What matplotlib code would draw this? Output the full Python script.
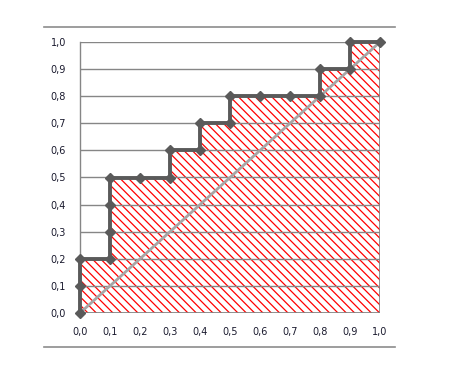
import matplotlib
matplotlib.use("Agg")
import matplotlib.pyplot as plt
from matplotlib.lines import Line2D
from matplotlib.ticker import FuncFormatter, MultipleLocator

# ROC-style step curve (false positive rate, true positive rate)
fpr = [0.0, 0.0, 0.0, 0.1, 0.1, 0.1, 0.1, 0.2, 0.3, 0.3, 0.4, 0.4, 0.5, 0.5,
       0.6, 0.7, 0.8, 0.8, 0.9, 0.9, 1.0]
tpr = [0.0, 0.1, 0.2, 0.2, 0.3, 0.4, 0.5, 0.5, 0.5, 0.6, 0.6, 0.7, 0.7, 0.8,
       0.8, 0.8, 0.8, 0.9, 0.9, 1.0, 1.0]
diag = [0.0, 1.0]

plt.rcParams["hatch.linewidth"] = 0.9

fig = plt.figure(figsize=(4.52, 3.68), dpi=100)
ax = fig.add_axes([80 / 452, 55 / 368, 300 / 452, 271 / 368])

# hatched area under the curve, then its thin grey outline
ax.fill_between(fpr, tpr, 0, facecolor="none", edgecolor="#ff0000",
                hatch="\\\\\\\\", linewidth=0, zorder=1)
ax.fill_between(fpr, tpr, 0, facecolor="none", edgecolor="#808080",
                linewidth=1.2, zorder=1.5)
ax.plot(diag, diag, color="#a6a6a6", lw=2, zorder=3)
ax.plot(fpr, tpr, color="#5a5a5a", lw=2.8, marker="D", ms=5.5,
        mfc="#5a5a5a", mec="#5a5a5a", clip_on=False, zorder=4)

ax.set_xlim(0, 1)
ax.set_ylim(0, 1)
ax.xaxis.set_major_locator(MultipleLocator(0.1))
ax.yaxis.set_major_locator(MultipleLocator(0.1))
fmt = FuncFormatter(lambda v, p: f"{v:.1f}".replace(".", ","))
ax.xaxis.set_major_formatter(fmt)
ax.yaxis.set_major_formatter(fmt)
ax.tick_params(length=0, labelsize=7, colors="#1a1a2e")
ax.tick_params(axis="x", pad=10)
ax.tick_params(axis="y", pad=10)
ax.grid(axis="y", color="#868686", lw=1, zorder=2)
ax.set_axisbelow(False)
for side in ("top", "right", "bottom"):
    ax.spines[side].set_visible(False)
ax.spines["left"].set_color("#868686")
ax.spines["left"].set_linewidth(1)

# separator lines above and below the chart
for y in (1 - 27 / 368, 1 - 347 / 368):
    fig.add_artist(Line2D([44 / 452, 395 / 452], [y, y], color="#8c8c8c", lw=1.2))

fig.savefig("out.png", dpi=100)
